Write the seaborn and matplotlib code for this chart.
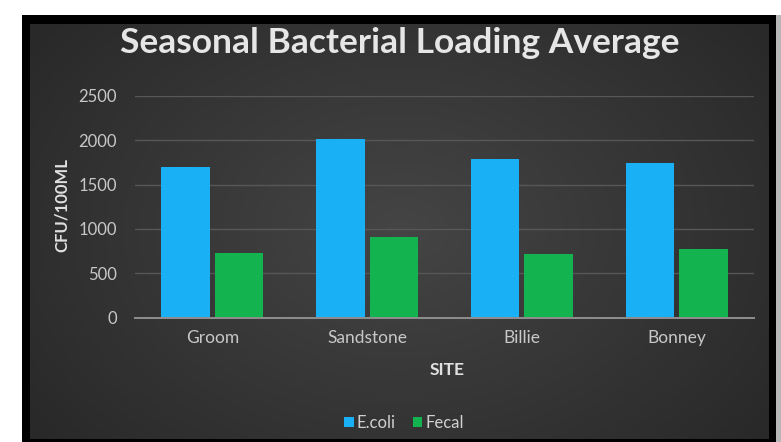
import numpy as np
import pandas as pd
import matplotlib
matplotlib.use("Agg")
import matplotlib.pyplot as plt
import seaborn as sns

sites = ["Groom", "Sandstone", "Billie", "Bonney"]
ecoli = [1700, 2010, 1790, 1745]
fecal = [730, 910, 715, 770]
series_names = ["E.coli", "Fecal"]
yticks = [0, 500, 1000, 1500, 2000, 2500]

df = pd.DataFrame({
    "SITE": sites * 2,
    "value": ecoli + fecal,
    "series": [series_names[0]] * 4 + [series_names[1]] * 4,
})

sns.set_theme(style="dark")
plt.rcParams["font.family"] = ["Lato", "DejaVu Sans"]

W, H = 781, 442
fig = plt.figure(figsize=(W / 100, H / 100), dpi=100, facecolor="white")

# background frame + radial gradient
bg = fig.add_axes([0, 0, 1, 1], zorder=-10)
img = np.ones((H, W, 3))
yy, xx = np.mgrid[0:H, 0:W]
img[15:442, 22:776] = 0.0
cx, cy = 400, 230
r = np.sqrt(((xx - cx) / 420.0) ** 2 + ((yy - cy) / 300.0) ** 2)
g = np.clip(0.27 - 0.10 * r, 0.15, 0.27)
inner = np.zeros((H, W), bool)
inner[24:439, 30:769] = True
for c in range(3):
    ch = img[:, :, c]
    ch[inner] = g[inner]
img[15:442, 776:781] = 0.72
bg.imshow(img, aspect="auto", interpolation="nearest")
bg.set_axis_off()

ax = fig.add_axes([135 / W, 1 - 317.5 / H, (754 - 135) / W, (317.5 - 96) / H])
ax.set_facecolor("none")
sns.barplot(data=df, x="SITE", y="value", hue="series", ax=ax,
            palette=["#1ab0f5", "#13b450"], width=0.69, gap=0.09,
            saturation=1, edgecolor="none", legend=True)
ax.set_ylim(0, 2500)
ax.set_xlim(-0.5, 3.5)
ax.set_yticks(yticks)
ax.yaxis.grid(True, color="#575757", linewidth=1.0)
ax.xaxis.grid(False)
ax.set_axisbelow(True)
for s in ["top", "right", "left"]:
    ax.spines[s].set_visible(False)
ax.spines["bottom"].set_color("#8f8f8f")
ax.spines["bottom"].set_linewidth(1.4)
ax.tick_params(axis="y", length=0, colors="#c8c8c8", labelsize=12, pad=13)
ax.tick_params(axis="x", length=0, colors="#c8c8c8", labelsize=12.5, pad=9)
ax.set_xlabel("SITE", color="#e0e0e0", fontsize=12.5, fontweight="bold")
ax.set_ylabel("CFU/100ML", color="#e0e0e0", fontsize=12, fontweight="bold")
ax.xaxis.set_label_coords(447 / W, 1 - 370 / H, transform=fig.transFigure)
ax.xaxis.label.set_va("center")
ax.yaxis.set_label_coords(62 / W, 1 - 205 / H, transform=fig.transFigure)
ax.yaxis.label.set_va("center")

leg = ax.legend(loc="center", bbox_to_anchor=(404 / W, 1 - 423 / H),
                bbox_transform=fig.transFigure, ncol=2, frameon=False,
                fontsize=12, handlelength=0.55, handleheight=0.55,
                handletextpad=0.2, columnspacing=1.0)
for t in leg.get_texts():
    t.set_color("#d0d0d0")

fig.text(400 / W, 1 - 43 / H, "Seasonal Bacterial Loading Average",
         ha="center", va="center", color="#e6e6e6", fontsize=25.5, fontweight="bold")

fig.savefig("out.png", dpi=100, facecolor="white")
